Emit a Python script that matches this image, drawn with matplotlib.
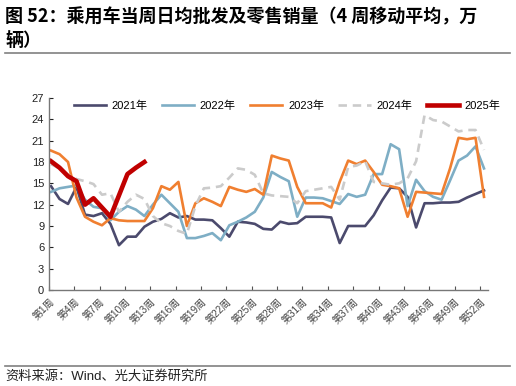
import matplotlib.pyplot as plt
import numpy as np
from matplotlib.lines import Line2D

plt.rcParams['font.family'] = ['Liberation Sans', 'Noto Sans CJK SC']

# 周次与各年数据（4周移动平均，万辆）
weeks = np.arange(1, 53)
tick_weeks = list(range(1, 53, 3))
tick_labels = ['第%d周' % w for w in tick_weeks]

y2021 = [14.6, 12.8, 12.1, 14.5, 10.6, 10.4, 10.8, 9.3, 6.3, 7.5, 7.5, 8.9, 9.6,
         10.0, 10.8, 10.2, 10.4, 9.9, 9.9, 9.8, 8.7, 7.5, 9.6, 9.5, 9.3, 8.6,
         8.5, 9.6, 9.3, 9.4, 10.3, 10.3, 10.3, 10.2, 6.6, 9.0, 9.0, 9.0, 10.5,
         12.6, 14.4, 14.3, 13.1, 8.8, 12.2, 12.2, 12.3, 12.3, 12.4, 13.0, 13.5, 14.0]
y2022 = [13.8, 14.3, 14.5, 14.7, 12.7, 11.7, 11.5, 9.8, 11.0, 11.8, 11.3, 10.4, 12.0,
         13.4, 12.2, 11.0, 7.3, 7.3, 7.6, 8.0, 7.0, 9.1, 9.6, 10.2, 11.0, 13.0,
         16.6, 15.9, 15.3, 10.3, 13.0, 13.0, 12.9, 12.5, 12.1, 13.5, 13.1, 13.4, 16.3,
         16.3, 20.5, 19.8, 11.8, 15.5, 13.9, 13.1, 12.7, 15.4, 18.2, 18.9, 20.2, 17.1]
y2023 = [19.6, 19.1, 18.0, 13.0, 10.3, 9.6, 9.1, 10.1, 9.8, 9.7, 9.7, 9.7, 11.5,
         14.6, 14.1, 15.2, 9.0, 12.2, 12.9, 12.4, 11.8, 14.5, 14.1, 13.8, 14.2, 13.4,
         18.9, 18.5, 18.2, 14.5, 12.2, 12.2, 12.2, 11.6, 15.2, 18.2, 17.7, 18.2, 16.6,
         14.8, 14.6, 14.3, 10.3, 13.8, 13.7, 13.6, 13.5, 17.1, 21.4, 21.2, 21.4, 13.1]
y2024 = [17.7, 17.1, 16.2, 15.6, 15.3, 14.9, 13.4, 13.6, 11.0, 12.4, 13.4, 12.8, 10.4,
         9.4, 9.0, 8.3, 7.9, 11.8, 14.3, 14.4, 14.6, 15.8, 17.1, 16.9, 16.2, 13.6,
         13.3, 13.2, 13.1, 12.2, 13.9, 14.1, 14.3, 14.5, 12.7, 17.3, 17.5, 18.1, 15.2,
         15.0, 14.8, 15.0, 15.7, 18.1, 24.6, 23.9, 23.7, 23.0, 22.3, 22.5, 22.5, 19.7]
y2025 = [18.1, 17.2, 16.0, 15.3, 12.0, 12.9, 11.6, 10.3, 13.3, 16.3, 17.2, 18.0]

fig = plt.figure(figsize=(5.16, 3.86), dpi=100)
ax = fig.add_axes([49/516, 1-290/386, (488-49)/516, (290-98)/386])

ax.plot(weeks, y2021, color='#4b4a6d', lw=1.9, label='2021年')
ax.plot(weeks, y2022, color='#7eaec5', lw=1.9, label='2022年')
ax.plot(weeks, y2023, color='#f07f30', lw=1.9, label='2023年')
ax.plot(weeks, y2024, color='#cbcbcb', lw=1.9, ls=(0, (3.2, 2.2)), label='2024年')
ax.plot(weeks[:len(y2025)], y2025, color='#c00000', lw=3.3, label='2025年')

ax.set_ylim(0, 27)
ax.set_yticks(range(0, 28, 3))
ax.set_xlim(0.76, 52.47)
ax.set_xticks(np.linspace(0.76, 51.52, 18))
ax.set_xticklabels(tick_labels, rotation=45, ha='right', va='top',
                   rotation_mode='anchor', fontsize=7.2, color='#444444')
ax.tick_params(axis='y', labelsize=8, colors='#222222', direction='in', length=3)
ax.tick_params(axis='x', direction='in', length=3, color='#555555', pad=5)
for s in ['top', 'right']:
    ax.spines[s].set_visible(False)
for s in ['left', 'bottom']:
    ax.spines[s].set_color('#777777')
    ax.spines[s].set_linewidth(1.0)

leg = ax.legend(loc='upper center', ncol=5, frameon=False, fontsize=8,
                bbox_to_anchor=(287/516, 1-93/386), bbox_transform=fig.transFigure,
                handlelength=2.9, columnspacing=1.3, handletextpad=0.5,
                borderpad=0.2)

fig.text(5/516, 1-17/386, '图 52：乘用车当周日均批发及零售销量（4 周移动平均，万',
         fontsize=13, fontweight='bold', va='center', ha='left',
         family=['Noto Sans CJK SC'])
fig.text(5/516, 1-41/386, '辆）', fontsize=13, fontweight='bold', va='center',
         ha='left', family=['Noto Sans CJK SC'])
fig.add_artist(Line2D([5/516, 510/516], [1-53/386, 1-53/386], color='#808080', lw=1.2))
fig.add_artist(Line2D([5/516, 510/516], [1-366/386, 1-366/386], color='#808080', lw=1.2))
fig.text(5/516, 1-376/386, '资料来源：Wind、光大证券研究所', fontsize=9.5,
         va='center', ha='left', color='#222222')

fig.savefig('out.png', dpi=100)
